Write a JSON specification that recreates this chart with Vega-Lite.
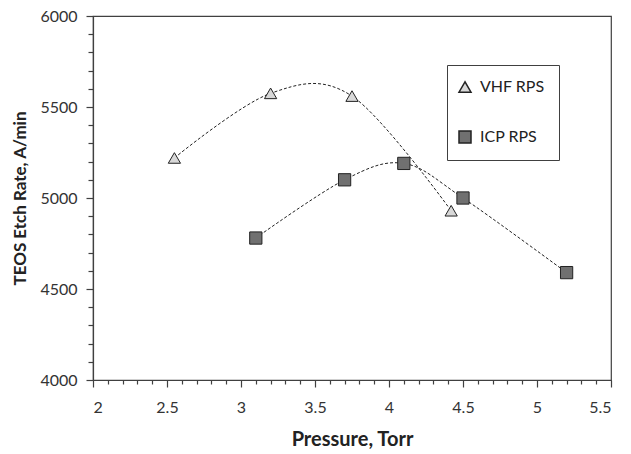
{
  "$schema": "https://vega.github.io/schema/vega-lite/v6.json",
  "autosize": "none",
  "width": 518,
  "height": 364,
  "padding": {"left": 93, "top": 16, "right": 20, "bottom": 74},
  "background": "white",
  "config": {
    "font": "Lato",
    "view": {"stroke": "#404040", "strokeWidth": 1.2},
    "axis": {"domainColor": "#404040", "tickColor": "#404040", "labelColor": "#333", "titleColor": "#222", "labelFont": "Lato", "titleFont": "Lato", "labelFontSize": 16, "titleFontSize": 17, "titleFontWeight": "bold", "grid": false, "labelOverlap": false, "domainWidth": 1.2, "tickWidth": 1.2}
  },
  "data": {"values": [
    {"series": "VHF RPS", "p": 2.55, "rate": 5220},
    {"series": "VHF RPS", "p": 3.2, "rate": 5575},
    {"series": "VHF RPS", "p": 3.75, "rate": 5560},
    {"series": "VHF RPS", "p": 4.42, "rate": 4930},
    {"series": "ICP RPS", "p": 3.1, "rate": 4780},
    {"series": "ICP RPS", "p": 3.7, "rate": 5100},
    {"series": "ICP RPS", "p": 4.1, "rate": 5190},
    {"series": "ICP RPS", "p": 4.5, "rate": 5000},
    {"series": "ICP RPS", "p": 5.2, "rate": 4590}
  ]},
  "encoding": {
    "x": {"field": "p", "type": "quantitative", "scale": {"domain": [2, 5.5], "nice": false, "zero": false},
      "axis": {"title": "Pressure, Torr", "titlePadding": 14, "titleFontSize": 20, "format": "~g",
        "values": [2,2.1,2.2,2.3,2.4,2.5,2.6,2.7,2.8,2.9,3,3.1,3.2,3.3,3.4,3.5,3.6,3.7,3.8,3.9,4,4.1,4.2,4.3,4.4,4.5,4.6,4.7,4.8,4.9,5,5.1,5.2,5.3,5.4,5.5],
        "labelExpr": "abs(datum.value*2-round(datum.value*2))<0.001 ? datum.label : ''",
        "tickSize": {"condition": {"test": "abs(datum.value*2-round(datum.value*2))<0.001", "value": 7}, "value": 4},
        "labelPadding": 12}},
    "y": {"field": "rate", "type": "quantitative", "scale": {"domain": [4000, 6000], "nice": false, "zero": false},
      "axis": {"title": "TEOS Etch Rate, A/min", "titlePadding": 10, "titleFontSize": 17, "format": "d",
        "values": [4000,4100,4200,4300,4400,4500,4600,4700,4800,4900,5000,5100,5200,5300,5400,5500,5600,5700,5800,5900,6000],
        "labelExpr": "datum.value % 500 == 0 ? datum.label : ''",
        "tickSize": {"condition": {"test": "datum.value % 500 == 0", "value": 7}, "value": 5},
        "labelPadding": 9}}
  },
  "layer": [
    {"mark": {"type": "line", "interpolate": "cardinal", "tension": 0, "color": "#222", "strokeWidth": 1, "strokeDash": [3, 2]},
     "encoding": {"detail": {"field": "series"}}},
    {"mark": {"type": "point", "filled": true, "stroke": "#222", "strokeWidth": 1, "size": 150, "opacity": 1},
     "encoding": {
       "shape": {"field": "series", "type": "nominal", "scale": {"domain": ["VHF RPS", "ICP RPS"], "range": ["triangle-up", "square"]},
         "legend": {"title": null, "orient": "none", "legendX": 354, "legendY": 49, "strokeColor": "#404040", "padding": 14, "rowPadding": 32, "labelFontSize": 16, "labelFont": "Lato", "labelColor": "#222", "symbolSize": 144, "symbolOffset": -4, "labelOffset": 7, "fillColor": "white",
           "encode": {"symbols": {"update": {
             "stroke": {"value": "#222"},
             "strokeWidth": {"value": 1},
             "opacity": {"value": 1}
           }}}}},
       "fill": {"field": "series", "type": "nominal", "scale": {"domain": ["VHF RPS", "ICP RPS"], "range": ["#d8d8d8", "#707070"]}, "legend": null}
     }}
  ]
}
